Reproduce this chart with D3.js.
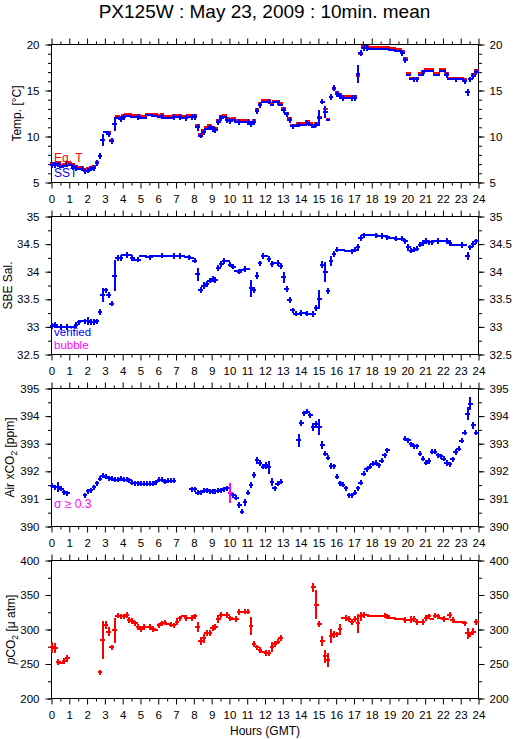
<!DOCTYPE html>
<html><head><meta charset="utf-8">
<script src="https://cdn.jsdelivr.net/npm/d3@7"></script>
<style>
body{margin:0;background:#fff}
svg{display:block}
text{font-family:"Liberation Sans",Arial,Helvetica,sans-serif;fill:#000}
</style></head>
<body><svg id="chart" width="515" height="739"></svg>
<script>
// ---------- DATA (10-minute means, 144 samples, null = no data) ----------
const hourTicks = d3.range(0, 25);
const sampleStepHours = 1 / 6;
const sampleOffsetHours = 0.05;

const eqT = [
 7.1,7.1,7.2,6.9,7.0,7.2, 7.1,7.0,6.8,6.7,6.7,6.5, 6.6,6.7,6.8,7.2,7.9,9.6,
 10.5,10.5,9.6,11.4,12.2,12.1, 12.3,12.4,12.4,12.3,12.3,12.3, 12.2,12.2,12.5,12.5,12.4,12.4,
 12.3,12.4,12.2,12.2,12.2,12.3, 12.3,12.3,12.2,12.2,12.3,12.3, 12.3,11.2,10.3,10.7,11.0,11.2,
 11.0,10.9,11.8,12.2,12.3,12.0, 11.9,12.0,11.8,11.8,11.8,11.8, 11.8,11.5,11.8,13.0,13.6,14.0,
 14.0,14.0,13.6,13.9,13.9,13.6, 13.1,12.6,12.0,11.3,11.3,11.5, 11.5,11.5,11.7,11.5,11.2,11.5,
 12.1,13.8,13.0,11.9,14.3,15.2, 14.8,14.6,14.4,14.4,14.4,14.4, 14.4,16.6,19.0,19.8,19.8,19.7,
 19.7,19.7,19.7,19.7,19.7,19.7, 19.6,19.6,19.5,19.5,19.3,18.5, 16.9,16.4,16.4,16.4,16.9,17.1,
 17.3,17.3,17.3,16.9,16.9,17.3, 17.3,16.9,16.4,16.4,16.4,16.4, 16.4,16.2,14.8,16.3,16.8,17.2
];
const eqTErr = [[17,0.3],[21,0.4],[92,0.3],[103,0.4],[140,0.2]];
const sst = [
 6.9,6.9,7.0,6.7,6.8,7.0, 6.9,6.7,6.6,6.5,6.5,6.2, 6.3,6.5,6.6,7.1,7.9,9.6,
 10.5,10.3,9.5,11.4,12.0,11.9, 12.1,12.2,12.2,12.1,12.1,12.1, 12.0,12.0,12.3,12.3,12.2,12.2,
 12.1,12.2,12.0,12.0,12.0,12.1, 12.1,12.1,12.0,12.0,12.1,12.1, 12.1,11.0,10.1,10.5,10.8,11.0,
 10.8,10.7,11.6,12.0,12.1,11.8, 11.7,11.8,11.6,11.6,11.6,11.6, 11.6,11.35,11.6,12.8,13.4,13.8,
 13.8,13.8,13.4,13.7,13.7,13.4, 12.9,12.4,11.8,11.1,11.1,11.3, 11.3,11.3,11.5,11.3,11.0,11.3,
 12.0,13.8,12.7,11.8,14.3,15.3, 14.6,14.4,14.2,14.2,14.2,14.2, 14.2,16.8,19.1,19.6,19.6,19.5,
 19.5,19.5,19.5,19.5,19.5,19.5, 19.4,19.4,19.3,19.3,19.1,18.3, 16.7,16.2,16.2,16.2,16.7,16.9,
 17.1,17.1,17.1,16.7,16.7,17.1, 17.1,16.7,16.2,16.2,16.2,16.2, 16.2,16.0,14.8,16.2,16.6,17.0
];
const sstErr = [[0,0.3],[1,0.3],[2,0.3],[5,0.3],[7,0.3],[8,0.3],[10,0.3],[11,0.3],[12,0.3],[13,0.3],[14,0.3],[15,0.35],
 [16,0.3],[17,0.65],[19,0.3],[20,0.3],[21,0.75],[23,0.3],[24,0.3],[29,0.3],[37,0.3],[41,0.3],[43,0.3],[45,0.3],[47,0.3],
 [48,0.3],[49,0.35],[50,0.3],[51,0.3],[53,0.3],[54,0.3],[55,0.3],[56,0.3],[57,0.3],[59,0.3],[60,0.3],[63,0.3],[66,0.3],
 [67,0.3],[68,0.3],[69,0.3],[70,0.3],[73,0.3],[76,0.3],[78,0.3],[79,0.3],[80,0.3],[81,0.3],[83,0.3],[86,0.3],[89,0.3],
 [90,0.9],[91,0.3],[92,0.65],[94,0.35],[95,0.35],[96,0.3],[97,0.3],[98,0.3],[101,0.3],[102,0.3],[103,1.0],[104,0.3],
 [105,0.3],[106,0.3],[118,0.3],[119,0.35],[122,0.3],[123,0.3],[125,0.3],[133,0.3],[136,0.3],[139,0.3],[140,0.35],
 [141,0.3],[142,0.3],[143,0.3]];

const sal = [
 33.02,33.03,33.0,33.0,33.0,33.0, 33.0,33.0,33.03,33.08,33.1,33.1, 33.11,33.09,33.09,33.1,33.27,33.58,
 33.66,33.58,33.42,33.93,34.25,34.25, 34.3,34.3,34.3,34.25,34.22,34.22, 34.28,34.28,34.27,34.26,34.29,34.29,
 34.29,34.29,34.29,34.28,34.28,34.28, 34.28,34.28,34.28,34.26,34.26,34.25, 34.2,33.95,33.67,33.75,33.78,33.84,
 33.87,33.85,34.07,34.14,34.19,34.19, 34.13,34.09,34.02,34.0,34.03,34.05, 34.05,33.7,33.67,33.93,34.15,34.28,
 34.28,34.23,34.14,34.16,34.16,34.1, 33.9,33.69,33.49,33.3,33.24,33.23, 33.25,33.26,33.24,33.23,33.23,33.34,
 33.5,34.13,34.0,33.65,34.19,34.32, 34.4,34.4,34.39,34.38,34.38,34.37, 34.4,34.44,34.61,34.66,34.66,34.66,
 34.66,34.66,34.65,34.65,34.65,34.62, 34.61,34.61,34.6,34.6,34.6,34.55, 34.44,34.38,34.4,34.42,34.49,34.52,
 34.56,34.53,34.53,34.55,34.56,34.56, 34.56,34.56,34.52,34.49,34.48,34.48, 34.48,34.48,34.29,34.44,34.5,34.55
];
const salErr = [[0,0.05],[1,0.05],[3,0.05],[5,0.05],[8,0.05],[9,0.05],[11,0.05],[12,0.07],[13,0.06],[14,0.06],[15,0.05],
 [16,0.06],[17,0.13],[18,0.05],[19,0.06],[20,0.05],[21,0.28],[22,0.05],[23,0.05],[25,0.05],[27,0.05],[29,0.05],[33,0.05],
 [37,0.05],[41,0.05],[43,0.05],[46,0.05],[48,0.05],[49,0.12],[50,0.05],[51,0.06],[52,0.05],[53,0.05],[54,0.05],[55,0.05],
 [56,0.06],[57,0.05],[58,0.05],[60,0.05],[61,0.05],[63,0.05],[65,0.05],[67,0.15],[68,0.06],[69,0.07],[70,0.05],[71,0.05],
 [73,0.05],[74,0.05],[76,0.05],[77,0.05],[78,0.1],[79,0.06],[80,0.06],[81,0.05],[82,0.05],[84,0.05],[86,0.05],[88,0.05],
 [89,0.05],[90,0.17],[91,0.07],[92,0.18],[93,0.06],[94,0.09],[95,0.06],[96,0.05],[101,0.05],[102,0.05],[103,0.06],
 [104,0.05],[105,0.05],[109,0.05],[111,0.05],[113,0.05],[116,0.05],[118,0.05],[119,0.05],[120,0.06],[121,0.05],[122,0.05],
 [123,0.05],[124,0.05],[125,0.05],[126,0.05],[127,0.05],[128,0.05],[130,0.05],[133,0.05],[134,0.05],[138,0.05],
 [140,0.07],[141,0.05],[142,0.05],[143,0.05]];

const xco2 = [
 391.48,391.42,391.44,391.36,391.25,391.2, null,null,null,null,null,391.13, 391.27,391.32,391.42,391.56,391.73,391.83,
 391.8,391.75,391.73,391.7,391.7,391.73, 391.7,391.7,391.68,391.59,391.56,391.56, 391.54,391.54,391.54,391.54,391.54,391.6,
 391.7,391.7,391.63,391.66,391.66,391.66, null,null,null,null,null,391.35, 391.35,391.22,391.25,391.3,391.32,391.28,
 391.26,391.28,391.3,391.32,391.35,391.38, 391.2,391.14,391.04,390.78,390.54,390.87, 391.23,391.5,391.86,392.4,392.3,392.16,
 392.22,392.14,391.62,391.38,391.54,391.62, null,null,null,null,null,393.12, 393.75,394.1,394.15,394.03,393.6,393.7,
 393.6,392.94,392.64,392.5,392.19,392.19, 391.8,391.56,391.51,391.38,391.14,391.14, 391.23,391.38,391.59,391.92,392.07,392.16,
 392.28,392.31,392.22,392.38,392.58,392.76, null,null,null,null,null,393.18, 393.12,392.98,392.9,392.9,392.64,392.46,
 392.31,392.38,392.7,392.7,392.58,392.55, 392.46,392.31,392.25,392.43,392.7,392.82, 393.1,393.39,394.09,394.45,393.67,393.39
];
const xco2Err = [[2,0.18],[22,0.1],[60,0.36],[63,0.12],[65,0.12],[66,0.1],[67,0.12],[68,0.12],[69,0.12],[70,0.12],[72,0.12],[73,0.24],[74,0.14],[83,0.24],[84,0.1],[88,0.14],[89,0.14],[90,0.3],[91,0.15],[94,0.12],[104,0.1],[124,0.1],[127,0.1],[133,0.1],[135,0.1],[136,0.1],[140,0.24],[141,0.24],[142,0.12]];
const xco2HighSigma = [60];

const pco2 = [
 274,273,253,252,254,258, null,null,null,null,null,null, null,null,null,null,238,285,
 307,297,274,299,320,319, 319,321,314,312,309,304, 301,304,304,304,300.5,299.5,
 306,309,310,308,307,306, 311,316,319,317,317,317, 319,304,283.6,287,294.7,294.7,
 302,304,315.5,321,321,321, 316,315.5,315,325,326,326, 326,305,278.7,274,270.5,268,
 265.7,265.7,275,279,282.6,287.5, null,null,null,null,null,null, null,null,null,null,361,335.7,
 307.7,283.6,261,256,291,293, 293,300.5,316.4,316.4,315,310.6, 315.5,309,319,321,321,320,
 320,320,320,320,320,319, 316,316,315.5,315.5,315.5,314, 314,314,315.5,310.6,310.6,310.6,
 316.4,319,315.5,320,319,316.4, 315,315,321,314,310.6,310.6, 310.6,309,294.7,293,297,310.6
];
const pco2Err = [[0,8],[1,7],[2,4],[4,4],[5,5],[16,4],[17,28],[18,6],[19,6],[20,4],[21,18],[22,4],[23,4],[24,4],[25,4],
 [26,4],[27,4],[28,4],[29,4],[30,4],[31,4],[33,4],[34,4],[36,4],[37,4],[38,4],[40,4],[41,4],[42,5],[43,4],[45,4],[47,4],
 [48,4],[49,7],[50,6],[51,6],[52,4],[53,4],[54,4],[55,4],[56,6],[57,4],[59,4],[60,4],[62,4],[63,4],[65,4],[66,4],[67,13],
 [68,4],[69,4],[70,4],[72,4],[73,4],[74,7],[75,4],[76,4],[77,4],[88,7],[89,21],[90,4],[91,7],[92,9],[93,10],[94,10],
 [95,5],[96,4],[97,8],[99,4],[100,4],[101,4],[102,4],[103,14],[104,6],[105,4],[112,4],[113,4],[119,4],[121,5],[122,4],
 [123,4],[125,4],[126,4],[127,4],[129,4],[130,4],[132,4],[134,4],[135,4],[139,4],[140,8],[141,4],[142,5],[143,4]];

const tempTicks = [5, 10, 15, 20], tempMinor = d3.range(5, 20.01, 1);
const salTicks = [32.5, 33, 33.5, 34, 34.5, 35], salMinor = d3.range(32.5, 35.01, 0.25);
const xco2Ticks = [390, 391, 392, 393, 394, 395], xco2Minor = d3.range(390, 395.01, 0.5);
const pco2Ticks = [200, 250, 300, 350, 400], pco2Minor = d3.range(200, 400.01, 25);

// ---------- LAYOUT ----------
const svg = d3.select("#chart");
const L = 51.5, R = 478.5, H = 138;
const x = d3.scaleLinear([0, 24], [L, R]);
const sampleHour = i => i * sampleStepHours + sampleOffsetHours;
const BLUE = "#0000ff", RED = "#ff0000", MAG = "#ff00ff";

svg.append("text").attr("x", 264.5).attr("y", 17.5).attr("text-anchor", "middle")
  .style("font-size", "19px").text("PX125W : May 23, 2009 : 10min. mean");

function makePanel(top, domain, major, minor, fmt, titleX, titleParts) {
  const g = svg.append("g");
  const y = d3.scaleLinear(domain, [top + H, top]);
  const styleAxis = sel => {
    sel.select(".domain").remove();
    sel.selectAll("line").attr("stroke", "#000").attr("stroke-width", 1);
    sel.selectAll("text").style("font-size", "11.5px").attr("font-family", null);
  };
  g.append("g").attr("transform", `translate(0,${top + H})`)
    .call(d3.axisBottom(x).tickValues(hourTicks).tickSize(6).tickPadding(6.3).tickFormat(d3.format("d"))).call(styleAxis);
  g.append("g").attr("transform", `translate(0,${top + H})`)
    .call(d3.axisBottom(x).tickValues(d3.range(0.5, 24, 1)).tickSize(3).tickFormat("")).call(styleAxis);
  g.append("g").attr("transform", `translate(0,${top})`)
    .call(d3.axisTop(x).tickValues(hourTicks).tickSize(6).tickFormat("")).call(styleAxis);
  g.append("g").attr("transform", `translate(0,${top})`)
    .call(d3.axisTop(x).tickValues(d3.range(0.5, 24, 1)).tickSize(3).tickFormat("")).call(styleAxis);
  g.append("g").attr("transform", `translate(${L},0)`)
    .call(d3.axisLeft(y).tickValues(major).tickSize(6).tickPadding(6).tickFormat(fmt)).call(styleAxis);
  g.append("g").attr("transform", `translate(${L},0)`)
    .call(d3.axisLeft(y).tickValues(minor).tickSize(3.5).tickFormat("")).call(styleAxis);
  g.append("g").attr("transform", `translate(${R},0)`)
    .call(d3.axisRight(y).tickValues(major).tickSize(6).tickPadding(5).tickFormat(fmt)).call(styleAxis);
  g.append("g").attr("transform", `translate(${R},0)`)
    .call(d3.axisRight(y).tickValues(minor).tickSize(3.5).tickFormat("")).call(styleAxis);
  g.append("rect").attr("x", L).attr("y", top).attr("width", R - L).attr("height", H)
    .attr("fill", "none").attr("stroke", "#000").attr("stroke-width", 1);
  const t = g.append("text").attr("transform", `translate(${titleX},${top + H / 2}) rotate(-90)`)
    .attr("text-anchor", "middle").style("font-size", "12px");
  titleParts.forEach(p => {
    const ts = t.append("tspan").text(p.text);
    if (p.sub) ts.attr("dy", 3).style("font-size", "8.5px");
    if (p.after) ts.attr("dy", -3);
    if (p.italic) ts.style("font-style", "italic");
  });
  return { g, y, top };
}

function drawSeries(panel, vals, errList, color, minHalf, flagged, flagColor) {
  const err = new Map(errList);
  const pts = [];
  vals.forEach((v, i) => {
    if (v == null) return;
    pts.push({ t: sampleHour(i), v, e: err.get(i) || 0,
      c: flagged && flagged.includes(i) ? flagColor : color });
  });
  const y = panel.y;
  const grp = panel.g.append("g").attr("stroke-width", 2).attr("shape-rendering", "crispEdges");
  grp.selectAll(null).data(pts).join("line")
    .attr("x1", d => x(d.t - 0.13)).attr("x2", d => x(d.t + 0.13))
    .attr("y1", d => y(d.v)).attr("y2", d => y(d.v)).attr("stroke", d => d.c);
  grp.selectAll(null).data(pts).join("line")
    .attr("x1", d => x(d.t)).attr("x2", d => x(d.t))
    .attr("y1", d => Math.min(y(d.v + d.e), y(d.v) - minHalf))
    .attr("y2", d => Math.max(y(d.v - d.e), y(d.v) + minHalf)).attr("stroke", d => d.c);
}

function legend(panel, lines, size) {
  lines.forEach(l => panel.g.append("text").attr("x", 54).attr("y", l.y)
    .style("font-size", size).style("fill", l.color).text(l.text));
}

const fmtG = d3.format("~g");
const p1 = makePanel(44.5, [5, 20], tempTicks, tempMinor, fmtG, 20.7, [{ text: "Temp. [°C]" }]);
const p2 = makePanel(216.5, [32.5, 35], salTicks, salMinor, fmtG, 11.5, [{ text: "SBE Sal." }]);
const p3 = makePanel(388.5, [390, 395], xco2Ticks, xco2Minor, fmtG, 13.5,
  [{ text: "Air xCO" }, { text: "2", sub: true }, { text: " [ppm]", after: true }]);
const p4 = makePanel(560.5, [200, 400], pco2Ticks, pco2Minor, fmtG, 14.5,
  [{ text: "p", italic: true }, { text: "CO" }, { text: "2", sub: true }, { text: " [μ atm]", after: true }]);

drawSeries(p1, eqT, eqTErr, RED, 1);
drawSeries(p1, sst, sstErr, BLUE, 1);
drawSeries(p2, sal, salErr, BLUE, 1);
drawSeries(p3, xco2, xco2Err, BLUE, 2.5, xco2HighSigma, MAG);
drawSeries(p4, pco2, pco2Err, RED, 1);

legend(p1, [{ text: "Eq. T", y: 162.3, color: RED }, { text: "SST", y: 176.7, color: BLUE }], "12px");
legend(p2, [{ text: "verified", y: 336, color: BLUE }, { text: "bubble", y: 348.5, color: MAG }], "11.5px");
legend(p3, [{ text: "σ ≥ 0.3", y: 507.7, color: MAG }], "12px");

svg.append("text").attr("x", 265).attr("y", 735).attr("text-anchor", "middle")
  .style("font-size", "12px").text("Hours (GMT)");
</script>
</body></html>
